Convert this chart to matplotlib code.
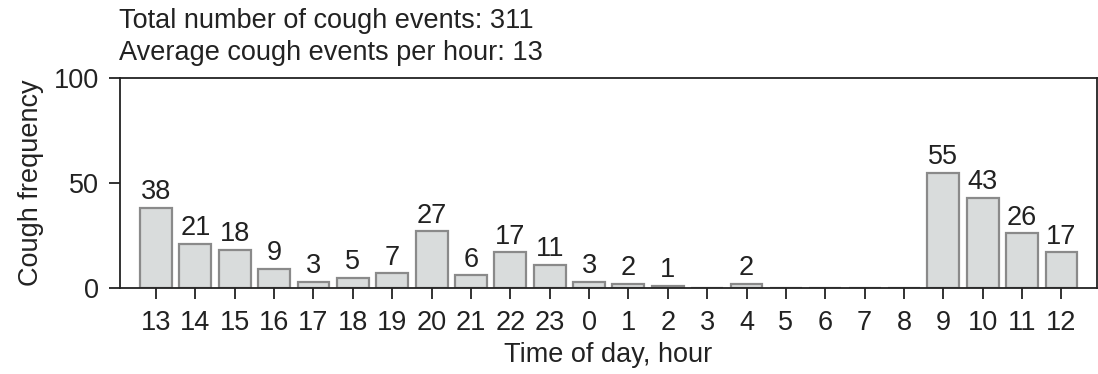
import matplotlib
matplotlib.use("Agg")
import matplotlib.pyplot as plt

plt.rcParams['font.family'] = ['Liberation Sans', 'DejaVu Sans']

# Hourly cough counts, starting at 13:00 and wrapping past midnight
hours = [13, 14, 15, 16, 17, 18, 19, 20, 21, 22, 23, 0, 1, 2, 3, 4, 5, 6, 7, 8, 9, 10, 11, 12]
coughs = [38, 21, 18, 9, 3, 5, 7, 27, 6, 17, 11, 3, 2, 1, 0, 2, 0, 0, 0, 0, 55, 43, 26, 17]
summary_lines = ["Total number of cough events: 311",
                 "Average cough events per hour: 13"]
y_ticks = [0, 50, 100]

text_color = "#222222"
fs = 19.5

fig = plt.figure(figsize=(10.98, 3.74), dpi=100)
ax = fig.add_axes([0.1093, 0.2299, 0.8897, 0.5615])

x = list(range(len(hours)))
bars = ax.bar(x, coughs, width=0.81, color="#d9dcdc", edgecolor="#8a8a8a",
              linewidth=1.6, zorder=2)

labels = [str(v) if v > 0 else "" for v in coughs]
ax.bar_label(bars, labels=labels, padding=2, fontsize=fs, color=text_color)

ax.set_xlim(-0.915, 23.9)
ax.set_ylim(0, 100)
ax.set_xticks(x)
ax.set_xticklabels([str(h) for h in hours])
ax.set_yticks(y_ticks)

for side in ax.spines.values():
    side.set_linewidth(1.3)
    side.set_color(text_color)

ax.tick_params(axis="both", direction="out", length=8, width=1.3,
               color=text_color, labelsize=fs, labelcolor=text_color)
ax.tick_params(axis="x", pad=8)
ax.tick_params(axis="y", pad=7)

ax.set_xlabel("Time of day, hour", fontsize=fs, color=text_color, labelpad=4)
ax.set_ylabel("Cough frequency", fontsize=fs, color=text_color, labelpad=7)

fig.text(0.1084, 1 - 28 / 374, summary_lines[0], fontsize=fs, color=text_color,
         ha="left", va="baseline")
fig.text(0.1084, 1 - 60 / 374, summary_lines[1], fontsize=fs, color=text_color,
         ha="left", va="baseline")

fig.savefig("out.png", dpi=100)
